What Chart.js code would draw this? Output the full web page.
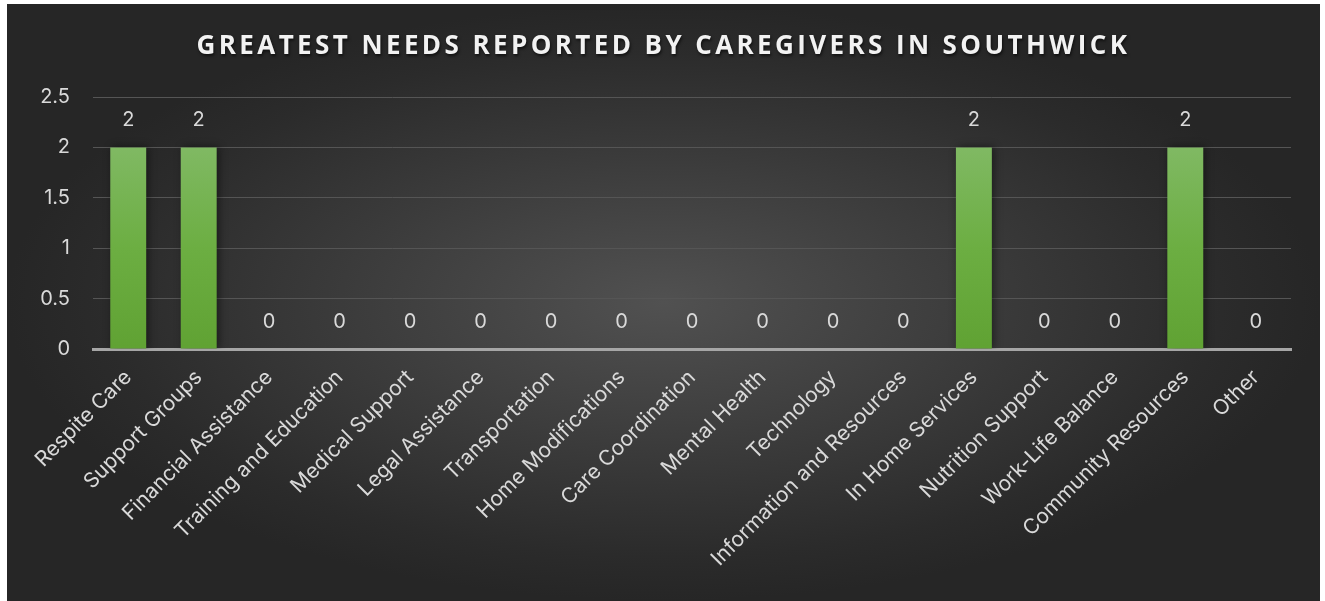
<!DOCTYPE html>
<html>
<head>
<meta charset="utf-8">
<script src="https://cdn.jsdelivr.net/npm/chart.js@4.4.1/dist/chart.umd.min.js"></script>
<style>
  html, body { margin: 0; padding: 0; background: #fff; }
  body { width: 1325px; height: 601px; position: relative; overflow: hidden; }
  #box {
    position: absolute; left: 7px; top: 4px; width: 1313px; height: 597px;
    background: radial-gradient(ellipse closest-side at 50% 50%, #515151 0%, #2b2b2b 85%, #262626 100%);
  }
  #title {
    position: absolute; left: 0; right: 0; top: 22px; text-align: center;
    font-family: "Open Sans", sans-serif; font-weight: 700; font-size: 26px;
    letter-spacing: 3.4px; color: #f2f2f2;
    text-shadow: 1px 2px 3px rgba(0,0,0,0.6);
  }
  canvas { position: absolute; left: 0; top: 0; }
</style>
</head>
<body>
<div id="box">
  <canvas id="needsChart" width="1313" height="597"></canvas>
  <div id="title">GREATEST NEEDS REPORTED BY CAREGIVERS IN SOUTHWICK</div>
</div>
<script>
// categories and counts
const needs = [
  "Respite Care", "Support Groups", "Financial Assistance", "Training and Education",
  "Medical Support", "Legal Assistance", "Transportation", "Home Modifications",
  "Care Coordination", "Mental Health", "Technology", "Information and Resources",
  "In Home Services", "Nutrition Support", "Work-Life Balance", "Community Resources", "Other"
];
const counts = [2, 2, 0, 0, 0, 0, 0, 0, 0, 0, 0, 0, 2, 0, 0, 2, 0];
const yTicks = [0, 0.5, 1, 1.5, 2, 2.5];

const textColor = "#d9d9d9";
const labelFont = "Inter, 'Liberation Sans', sans-serif";

// bar gradient, light green at top to darker green at bottom
function barFill(context) {
   const chart = context.chart;
   const area = chart.chartArea;
   if (!area) return "#6aab40";
   const y0 = chart.scales.y.getPixelForValue(2);
   const y1 = chart.scales.y.getPixelForValue(0);
   const g = chart.ctx.createLinearGradient(0, y0, 0, y1);
   g.addColorStop(0, "#80b963");
   g.addColorStop(0.5, "#6cae42");
   g.addColorStop(1, "#60a233");
   return g;
}

// value labels above each bar
const valueLabels = {
   id: "valueLabels",
   afterDatasetsDraw(chart) {
      const ctx = chart.ctx;
      const meta = chart.getDatasetMeta(0);
      ctx.save();
      ctx.fillStyle = textColor;
      ctx.font = "20px " + labelFont;
      ctx.textAlign = "center";
      ctx.textBaseline = "bottom";
      meta.data.forEach(function (bar, i) {
         ctx.fillText(String(counts[i]), bar.x, bar.y - 17);
      });
      ctx.restore();
   },
};

// soft shadow behind the bars
const barShadow = {
   id: "barShadow",
   beforeDatasetsDraw(chart) {
      const ctx = chart.ctx;
      ctx.save();
      ctx.shadowColor = "rgba(0,0,0,0.45)";
      ctx.shadowBlur = 8;
      ctx.shadowOffsetX = 2;
      ctx.shadowOffsetY = 0;
   },
   afterDatasetsDraw(chart) {
      chart.ctx.restore();
   },
};

const needsChart = new Chart(document.getElementById("needsChart").getContext("2d"), {
   type: "bar",
   data: {
      labels: needs,
      datasets: [
         {
            label: "Caregivers",
            data: counts,
            backgroundColor: barFill,
            borderWidth: 0,
            categoryPercentage: 1,
            barPercentage: 0.51,
         },
      ],
   },
   options: {
      responsive: false,
      animation: false,
      layout: { padding: { left: 0, right: 29, top: 93, bottom: 0 } },
      plugins: {
         legend: { display: false },
         tooltip: { enabled: false },
         title: { display: false },
      },
      scales: {
         x: {
            grid: { display: false, drawTicks: false },
            border: { display: true, color: "#a6a6a6", width: 3 },
            ticks: {
               color: textColor,
               font: { family: labelFont, size: 21 },
               autoSkip: false,
               minRotation: 45,
               maxRotation: 45,
               padding: 16,
            },
            afterFit(scale) { scale.height = 252; },
         },
         y: {
            min: 0,
            max: 2.5,
            afterBuildTicks(scale) {
               scale.ticks = yTicks.map(function (v) { return { value: v }; });
            },
            grid: { color: "#555555", lineWidth: 1, drawTicks: false },
            border: { display: false },
            ticks: {
               color: textColor,
               font: { family: labelFont, size: 20 },
               padding: 23,
               callback: function (value) { return String(value); },
            },
            afterFit(scale) { scale.width = 86; },
         },
      },
   },
   plugins: [barShadow, valueLabels],
});
</script>
</body>
</html>
